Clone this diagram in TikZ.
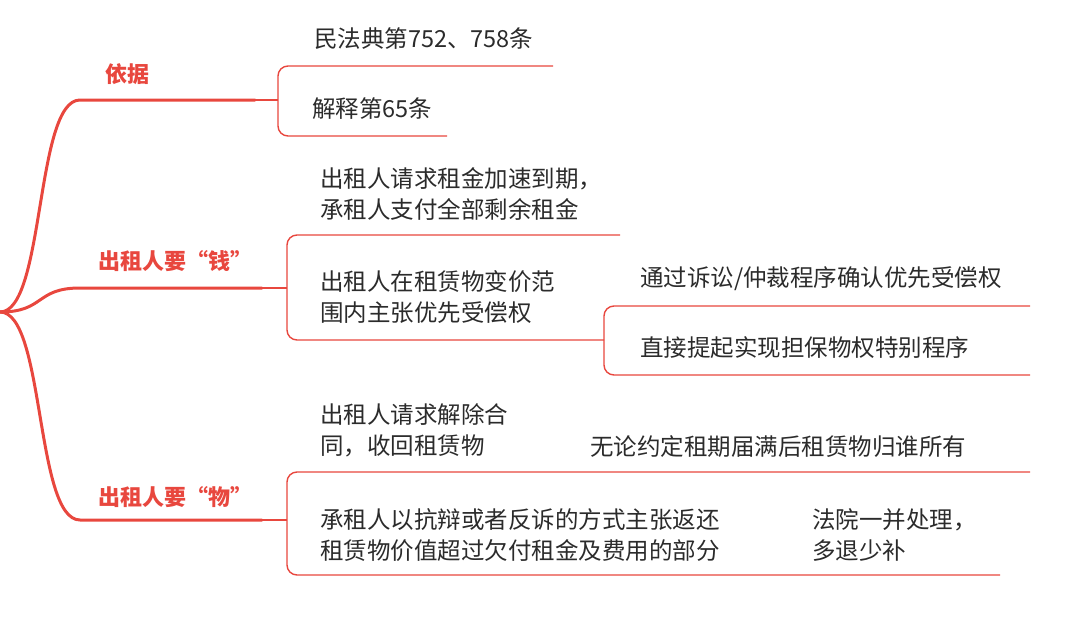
\documentclass[tikz,border=0pt]{standalone}
\usepackage{fontspec}
\setmainfont{Noto Sans CJK SC}
\definecolor{rd}{HTML}{E8473E}
\definecolor{tx}{HTML}{2B2B2B}
\begin{document}
\begin{tikzpicture}[x=1pt,y=-1pt,
  main/.style={draw=rd,line width=3pt,line cap=round},
  thin/.style={draw=rd,line width=1.4pt,rounded corners=10pt},
  lbl/.style={text=rd,font=\fontsize{22}{26}\selectfont\bfseries,inner sep=0},
  txt/.style={text=tx,font=\fontsize{23.5}{31}\selectfont,anchor=west,align=left,inner sep=0}]
\useasboundingbox (0,0) rectangle (1080,621);
\coordinate (r) at (0,312);
\coordinate (a1) at (80,100); \coordinate (a2) at (255,100);
\coordinate (b1) at (80,288); \coordinate (b2) at (262,288);
\coordinate (c1) at (80,520); \coordinate (c2) at (262,520);
\draw[main] (r) .. controls (45,312) and (35,100) .. (a1) -- (a2);
\draw[main] (r) .. controls (45,312) and (35,288) .. (b1) -- (b2);
\draw[main] (r) .. controls (45,312) and (35,520) .. (c1) -- (c2);
\node[lbl] (la) at (127,74) {依据};
\node[lbl] (lb) at (175,261) {出租人要“钱”};
\node[lbl] (lc) at (175,497) {出租人要“物”};
% bracket 1
\draw[thin] (553,66) -- (278,66) -- (278,136) -- (447,136);
\draw[thin] (a2) -- (278,100);
\node[txt] (t1) at (314,39) {民法典第752、758条};
\node[txt] (t2) at (312,109) {解释第65条};
% bracket 2
\draw[thin] (620,235) -- (287,235) -- (287,340) -- (604,340);
\draw[thin] (b2) -- (287,288);
\draw[thin] (1030,306) -- (604,306) -- (604,375) -- (1030,375);
\node[txt] (t3) at (320,194) {出租人请求租金加速到期，\\承租人支付全部剩余租金};
\node[txt] (t4) at (320,297) {出租人在租赁物变价范\\围内主张优先受偿权};
\node[txt] (t5) at (640,279) {通过诉讼/仲裁程序确认优先受偿权};
\node[txt] (t6) at (640,348) {直接提起实现担保物权特别程序};
% bracket 3
\draw[thin] (1030,472) -- (287,472) -- (287,575) -- (1000,575);
\draw[thin] (c2) -- (287,520);
\node[txt] (t7) at (320,430) {出租人请求解除合\\同，收回租赁物};
\node[txt] (t8) at (590,447) {无论约定租期届满后租赁物归谁所有};
\node[txt] (t9) at (320,535) {承租人以抗辩或者反诉的方式主张返还\\租赁物价值超过欠付租金及费用的部分};
\node[txt] (t10) at (812,535) {法院一并处理，\\多退少补};
\end{tikzpicture}
\end{document}
